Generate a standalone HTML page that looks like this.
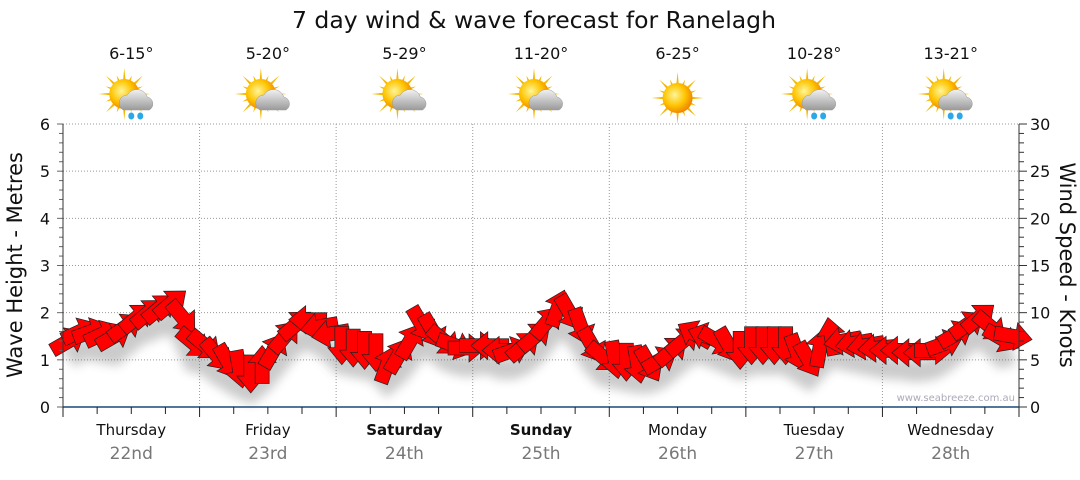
<!DOCTYPE html>
<html><head><meta charset="utf-8"><style>
body{margin:0;background:#fff;font-family:"Liberation Sans",sans-serif;}
svg text{font-family:"DejaVu Sans","Liberation Sans",sans-serif;}
</style></head><body>
<svg id="c" width="1080" height="475" xmlns="http://www.w3.org/2000/svg">
<defs>
<filter id="blur" x="-20%" y="-50%" width="140%" height="200%"><feGaussianBlur stdDeviation="5"/></filter>
<radialGradient id="sun" cx="0.4" cy="0.4" r="0.6"><stop offset="0" stop-color="#fff59a"/><stop offset="0.6" stop-color="#ffc400"/><stop offset="1" stop-color="#f08a00"/></radialGradient>
<linearGradient id="cloud" x1="0" y1="0" x2="0" y2="1"><stop offset="0" stop-color="#f2f2f2"/><stop offset="1" stop-color="#9a9a9a"/></linearGradient>
</defs>
<text x="534" y="28" font-size="23.5" text-anchor="middle" fill="#111">7 day wind &amp; wave forecast for Ranelagh</text>
<g id="grid"></g><g id="icons"></g><g id="shadow" filter="url(#blur)" opacity="0.3"></g><g id="arrows"></g><g id="axes"></g>
<text transform="translate(22,265) rotate(-90)" font-size="21" text-anchor="middle" fill="#111">Wave Height - Metres</text>
<text transform="translate(1060,265) rotate(90)" font-size="21" text-anchor="middle" fill="#111">Wind Speed - Knots</text>
<text x="1015" y="401" font-size="10" text-anchor="end" fill="#aab">www.seabreeze.com.au</text>
</svg>
<script>
const days=["Thursday","Friday","Saturday","Sunday","Monday","Tuesday","Wednesday"];
const dates=["22nd","23rd","24th","25th","26th","27th","28th"];
const temps=["6-15°","5-20°","5-29°","11-20°","6-25°","10-28°","13-21°"];
const icons=["rain","cloud","cloud","cloud","sun","rain","rain"];
const boldDays=[false,false,true,true,false,false,false];
const windKnots=[
7,8,8,7.75,7.5,8.5,9.5,10,10.5,11,9.5,6.75,
6.5,5.5,4.75,4,3.5,4.5,6,7.5,8.75,9.25,8.5,7.75,
6.5,6.25,6,5.75,4.5,5.5,7,8.75,8,7,6.5,6.25,
6.5,6.5,6,6,6.5,7.5,9,10.5,10,8.5,6.5,5.25,
5,4.75,4.5,4.5,5,6,7,7.75,7.5,7,6.5,6,
6.5,6.5,6.5,6.5,5.75,5,6.25,7.5,7,6.75,6.5,6.25,
6,6,5.75,5.75,6,6.75,7.75,8.75,9.5,8.5,7.25,7.5];
const windDir=[
-30,-25,-20,-25,-30,-35,-40,-40,-40,-40,50,40,
40,50,60,80,90,-90,-60,-50,-40,180,170,170,
90,90,90,90,-70,-60,-60,60,60,40,20,0,
0,180,180,-20,-40,-40,-50,-70,60,70,60,40,
80,90,80,60,-30,-40,-40,-150,-160,30,60,90,
90,90,90,90,70,60,-80,-100,170,170,170,175,
180,180,180,180,0,-20,-30,-35,-40,40,30,10];
const leftTicks=[0,1,2,3,4,5,6];
const rightTicks=[0,5,10,15,20,25,30];
const NS="http://www.w3.org/2000/svg";
const X0=63,X1=1019,Y0=407,Y1=124,DW=(X1-X0)/7,PER=12;
const yM=m=>Y0-(m/6)*(Y0-Y1);
const yK=k=>Y0-(k/30)*(Y0-Y1);
const xI=i=>X0+(i+0.5)*DW/PER;
function el(t,a,p){const e=document.createElementNS(NS,t);for(const k in a)e.setAttribute(k,a[k]);p.appendChild(e);return e;}
const grid=document.getElementById('grid'),axes=document.getElementById('axes'),icg=document.getElementById('icons');
leftTicks.forEach(v=>{if(v>0){const l=el('line',{x1:X0,x2:X1,y1:yM(v),y2:yM(v),stroke:'#999','stroke-dasharray':'1,2'},grid);

}
const t=el('text',{x:50,y:yM(v)+6,'font-size':16,'text-anchor':'end',fill:'#111'},axes);t.textContent=v;

});
for(let m=0;m<=6.001;m+=0.2){el('line',{x1:X0-(Math.abs(m-Math.round(m))<0.01?6:4),x2:X0,y1:yM(m),y2:yM(m),stroke:'#666'},axes);}
rightTicks.forEach(v=>{const t=el('text',{x:1030,y:yK(v)+6,'font-size':16,fill:'#111'},axes);t.textContent=v;

});
for(let k=0;k<=30;k++){el('line',{x1:X1,x2:X1+(k%5==0?8:5),y1:yK(k),y2:yK(k),stroke:'#333'},axes);}
el('line',{x1:X0,x2:X0,y1:Y1,y2:Y0,stroke:'#333'},axes);
el('line',{x1:X1,x2:X1,y1:Y1,y2:Y0,stroke:'#333'},axes);
el('line',{x1:X0,x2:X1,y1:Y0,y2:Y0,stroke:'#1a4a7a','stroke-width':1.5},axes);
for(let q=0;q<=28;q++){const x=X0+q*DW/4;el('line',{x1:x,x2:x,y1:Y0,y2:Y0+(q%4==0?10:7),stroke:'#222'},axes);}
days.forEach((d,i)=>{const cx=X0+(i+0.5)*DW;
if(i>0){const l=el('line',{x1:X0+i*DW,x2:X0+i*DW,y1:Y1,y2:Y0,stroke:'#999','stroke-dasharray':'1,2'},grid);

}
let t=el('text',{x:cx,y:435,'font-size':15,'text-anchor':'middle',fill:'#111','font-weight':boldDays[i]?'bold':'normal'},axes);t.textContent=d;


t=el('text',{x:cx,y:459,'font-size':17,'text-anchor':'middle',fill:'#777'},axes);t.textContent=dates[i];


t=el('text',{x:cx,y:59,'font-size':16,'text-anchor':'middle',fill:'#111'},icg);t.textContent=temps[i];


const g=el('g',{transform:`translate(${cx},98)`},icg);


const sx=icons[i]=='sun'?0:-7,sy=icons[i]=='sun'?0:-4;
for(let r=0;r<16;r++){const a=r*Math.PI/8,len=r%2?20:26;el('polygon',{points:`${sx+Math.cos(a-0.12)*12},${sy+Math.sin(a-0.12)*12} ${sx+Math.cos(a)*len},${sy+Math.sin(a)*len} ${sx+Math.cos(a+0.12)*12},${sy+Math.sin(a+0.12)*12}`,fill:'#f5b800'},g);}
el('circle',{cx:sx,cy:sy,r:15,fill:'url(#sun)'},g);
if(icons[i]!='sun'){el('path',{d:'M-8,12 a8,8 0 0 1 4,-15 a11,11 0 0 1 20,2 a7,7 0 0 1 2,13 z',fill:'url(#cloud)',stroke:'#999','stroke-width':0.5},g);}
if(icons[i]=='rain'){[[0,18],[9,18]].forEach(p=>el('ellipse',{cx:p[0],cy:p[1],rx:3,ry:3.5,fill:'#2aa8e8'},g));}
});
const sh=document.getElementById('shadow'),ag=document.getElementById('arrows');
let pd='';windKnots.forEach((k,i)=>{pd+=(i?'L':'M')+xI(i)+','+(yK(k)+18);});
el('path',{d:pd,stroke:'#555','stroke-width':22,fill:'none'},sh);
windKnots.forEach((k,i)=>{
const a=el('polygon',{points:'-19,-7 2,-7 2,-14 19,0 2,14 2,7 -19,7',fill:'#f00',stroke:'#222','stroke-width':0.7,transform:`translate(${xI(i)},${yK(k)}) rotate(${windDir[i]})`},ag);


});
</script>
</body></html>
